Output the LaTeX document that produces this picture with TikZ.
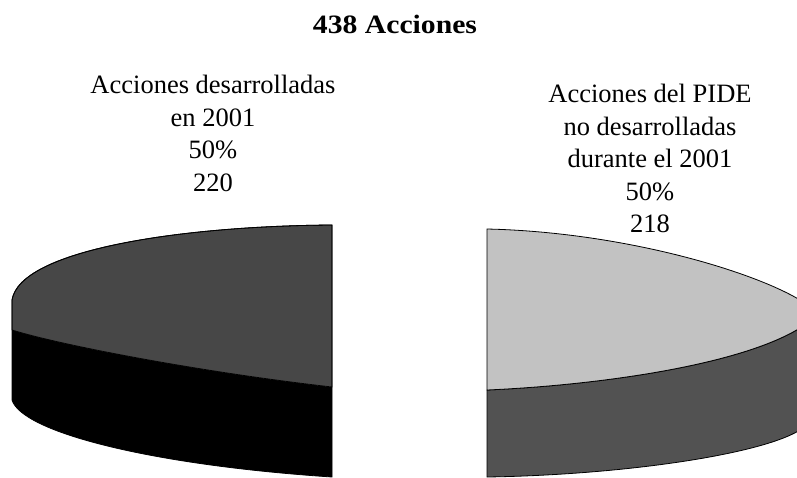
\documentclass[tikz,border=0pt]{standalone}
\usepackage{fontspec}
\setmainfont{Liberation Serif}
\begin{document}
\begin{tikzpicture}[x=1pt,y=-1pt,
  lbl/.style={align=center,inner sep=0pt,anchor=north,
    font=\fontsize{26.5}{32.5}\selectfont},
  ttl/.style={inner sep=0pt,anchor=base,font=\fontsize{26.5}{30}\selectfont\bfseries},
  edge/.style={draw=black,line width=0.8pt,line join=round}]
\useasboundingbox (0,0) rectangle (797,477);
\clip (0,0) rectangle (797,477);
% title
\node[ttl] (title) at (395,33) {\scalebox{1.12}[1]{438 Acciones}};
% labels
\node[lbl] (lleft) at (213,75) {Acciones desarrolladas\\en 2001\\50\%\\220};
\node[lbl] (lright) at (650,84) {Acciones del PIDE\\no desarrolladas\\durante el 2001\\50\%\\218};
% left pie: side (black)
\fill[black] (12,300) -- (12,400) .. controls (22,432) and (150,465) .. (332,477)
  -- (332,387) .. controls (200,372) and (60,345) .. (12,330) -- cycle;
% left pie: top face
\path[edge,fill=black!72] (332,225) .. controls (180,226) and (20,250) .. (12,300)
  -- (12,330) .. controls (60,345) and (200,372) .. (332,387) -- cycle;
\draw[edge] (332,225) .. controls (180,226) and (20,250) .. (12,300) -- (12,400)
  .. controls (22,432) and (150,465) .. (332,477) -- cycle;
% right pie: side (dark gray)
\path[edge,fill=black!68] (487,390) -- (487,477) .. controls (620,475) and (760,455) .. (800,430)
  -- (800,328) .. controls (740,365) and (600,385) .. (487,390) -- cycle;
% right pie: top face (light gray)
\path[edge,fill=black!24] (487,229) .. controls (620,232) and (750,270) .. (800,300)
  -- (800,328) .. controls (740,365) and (600,385) .. (487,390) -- cycle;
\end{tikzpicture}
\end{document}
